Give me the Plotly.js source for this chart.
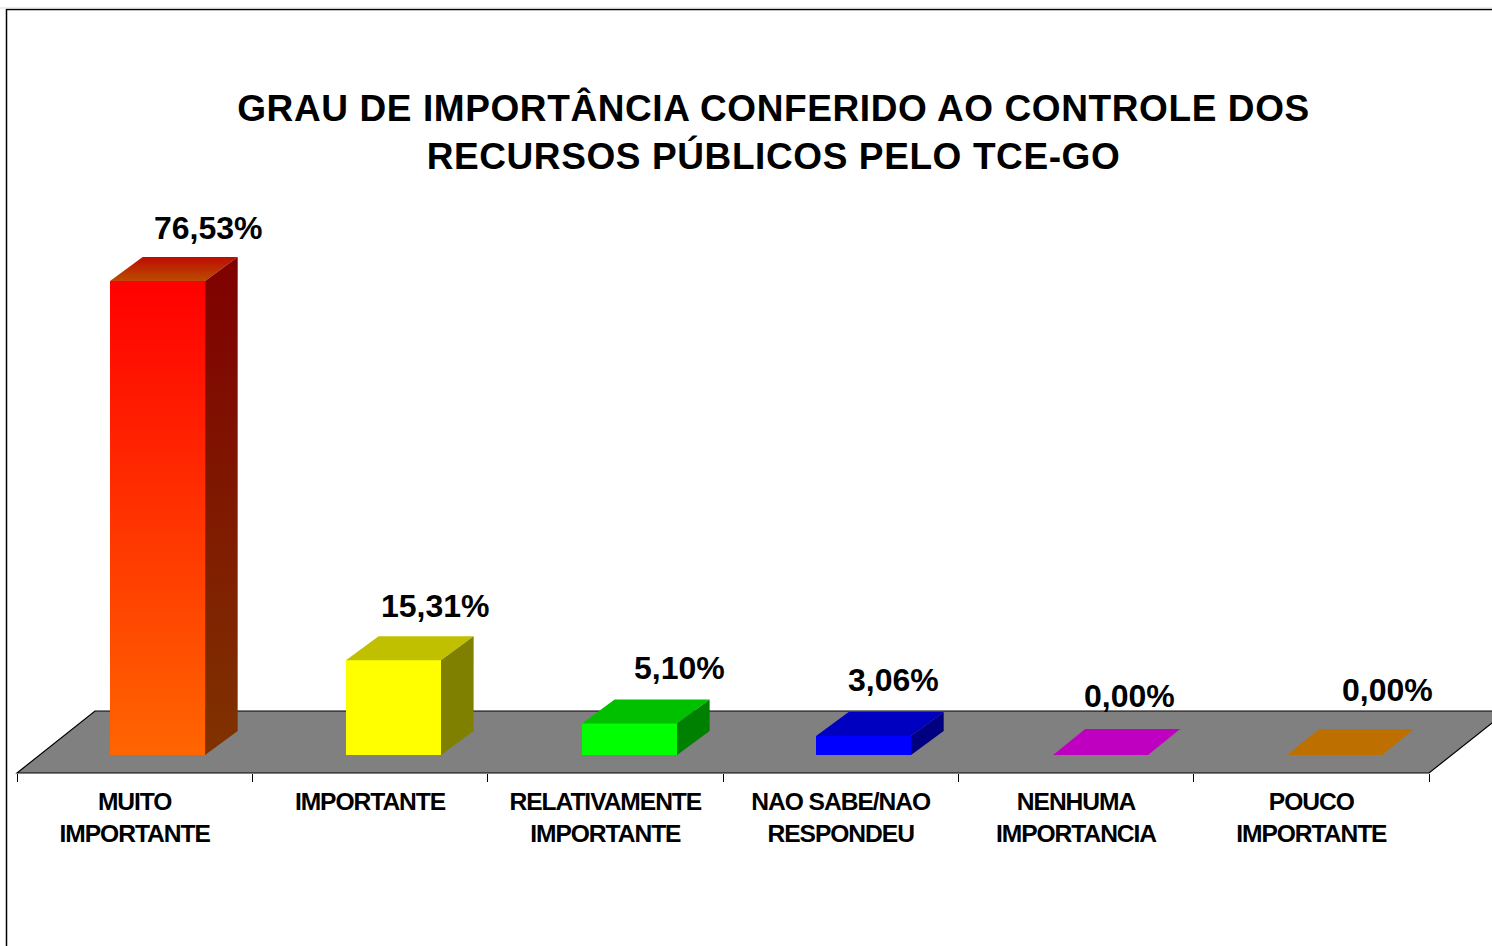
<!DOCTYPE html>
<html>
<head>
<meta charset="utf-8">
<script src="https://cdn.plot.ly/plotly-3.0.1.min.js"></script>
<style>
html,body{margin:0;padding:0;background:#fff;overflow:hidden}
.xtick text{letter-spacing:-1.05px}
.gtitle{letter-spacing:.6px}
</style>
</head>
<body>
<div id="chart" style="width:1492px;height:946px"></div>
<script>
// Data
const categories = ['MUITO<br>IMPORTANTE','IMPORTANTE','RELATIVAMENTE<br>IMPORTANTE','NAO SABE/NAO<br>RESPONDEU','NENHUMA<br>IMPORTANCIA','POUCO<br>IMPORTANTE'];
const values = [76.53, 15.31, 5.10, 3.06, 0.00, 0.00];
const labels = ['76,53%','15,31%','5,10%','3,06%','0,00%','0,00%'];

// Styles
const frontColors = ['#ff3300','#ffff00','#00ff00','#0000ff','#ff00ff','#ff9900'];
const topColors   = ['#bb2e00','#c0c000','#00c000','#0000c0','#c000c0','#bd7000'];
const sideColors  = ['#7f1a00','#808000','#008000','#000080','#800080','#805000'];
const labelCenterX = [208.5,435,680,893,1129,1388];   // page px
const labelCenterY = [228,606,668,680,696,690];     // page px
const frontLeft = [-24.6,-24,-23.3,-24.6,-22.9,-24.2]; // bar left edge relative to category centre, px

// Geometry of the pseudo-3D scene, in page pixels
const W = 1492, H = 946;
const plotL = 17, plotR = 1429, plotT = 200, plotB = 773;
const baseY = 755, pxPerUnit = 6.194;
const catW = (plotR - plotL) / categories.length;
const frontW = 95, depthX = 32.6, depthY = 24, flatDepthX = 32, flatDepthY = 26;

const idx = categories.map((_, i) => i);
const yTop = (baseY - plotT) / pxPerUnit, yBot = (baseY - plotB) / pxPerUnit;
const dx = px => px / catW;
const dy = px => px / pxPerUnit;
const xp = px => (px - plotL) / (plotR - plotL);
const yp = py => (plotB - py) / (plotB - plotT);
const toPaperPath = pts => 'M' + pts.map(p => xp(p[0]) + ',' + yp(p[1])).join('L');

const traces = [{
  type: 'bar', x: idx, y: values, width: dx(frontW), offset: frontLeft.map(dx),
  marker: {color: frontColors, line: {width: 0}}, hoverinfo: 'skip', showlegend: false
}];

function face(xs, ys, color, gradient) {
  const t = {type: 'scatter', mode: 'lines', x: xs, y: ys, fill: 'toself', line: {width: 0},
    fillcolor: color, hoverinfo: 'skip', showlegend: false, cliponaxis: false};
  if (gradient) t.fillgradient = {type: 'vertical', colorscale: gradient};
  return t;
}

values.forEach((v, i) => {
  const l = i + dx(frontLeft[i]), r = l + dx(frontW);
  const flat = v === 0;
  const ox = dx(flat ? flatDepthX : depthX), oy = dy(flat ? flatDepthY : depthY);
  const grad = i === 0;
  // top face
  traces.push(face([l, r, r + ox, l + ox, l], [v, v, v + oy, v + oy, v], topColors[i],
    grad ? [[0, '#bb4c00'], [1, '#bd0c00']] : null));
  if (!flat) {
    // right face
    traces.push(face([r, r + ox, r + ox, r, r], [0, oy, v + oy, v, 0], sideColors[i],
      grad ? [[0, '#7f3300'], [1, '#7f0000']] : null));
    // gradient front of the first bar
    if (grad) traces.push(face([l, r, r, l, l], [0, 0, v, v, 0], frontColors[i],
      [[0, '#ff6600'], [1, '#ff0000']]));
  }
});

const annotations = values.map((v, i) => ({
  xref: 'x', yref: 'y', x: i, y: v, text: labels[i], showarrow: false,
  xanchor: 'center', yanchor: 'middle',
  xshift: labelCenterX[i] - (plotL + (i + 0.5) * catW),
  yshift: (baseY - v * pxPerUnit) - labelCenterY[i],
  font: {family: 'Liberation Sans, Arial, sans-serif', size: 32, color: '#000', weight: 700}
}));

const shapes = [
  // floor
  {type: 'path', xref: 'paper', yref: 'paper', layer: 'below',
   path: toPaperPath([[17,773],[95,711],[1507,711],[1429,773]]) + 'Z',
   fillcolor: '#808080', line: {color: '#000', width: 1.2}},
  // outer frame
  {type: 'path', xref: 'paper', yref: 'paper', layer: 'below',
   path: toPaperPath([[6.5,H+2],[6.5,9.5],[W+2,9.5]]),
   line: {color: '#000', width: 1.5}},
  {type: 'line', xref: 'paper', yref: 'paper', layer: 'below',
   x0: xp(0), x1: xp(W), y0: yp(8), y1: yp(8), line: {color: '#d8d8d8', width: 1}}
];

const layout = {
  width: W, height: H, autosize: false,
  margin: {l: plotL, r: W - plotR, t: plotT, b: H - plotB, pad: 0},
  paper_bgcolor: '#fff', plot_bgcolor: 'rgba(0,0,0,0)',
  showlegend: false, bargap: 0,
  title: {
    text: 'GRAU DE IMPORTÂNCIA CONFERIDO AO CONTROLE DOS<br>RECURSOS PÚBLICOS PELO TCE-GO',
    font: {family: 'Liberation Sans, Arial, sans-serif', size: 37, color: '#000', weight: 700},
    x: xp(773.5), xanchor: 'center', xref: 'paper', y: 1 - 121 / H, yref: 'container', yanchor: 'middle'
  },
  xaxis: {
    type: 'linear', range: [-0.5, 5.5], fixedrange: true, showgrid: false, zeroline: false,
    showline: false,
    tickmode: 'array', tickvals: idx, ticktext: categories, ticks: '',
    ticklabelstandoff: 11,
    tickfont: {family: 'Liberation Sans, Arial, sans-serif', size: 24.6, color: '#000', weight: 700},
    tickangle: 0,
    minor: {tickmode: 'array', tickvals: [-0.5,0.5,1.5,2.5,3.5,4.5,5.5], ticks: 'outside', ticklen: 8, tickwidth: 1, tickcolor: '#000', showgrid: false}
  },
  yaxis: {range: [yBot, yTop], visible: false, fixedrange: true, showgrid: false, zeroline: false},
  annotations, shapes
};

Plotly.newPlot('chart', traces, layout, {displayModeBar: false, staticPlot: true});
</script>
</body>
</html>
